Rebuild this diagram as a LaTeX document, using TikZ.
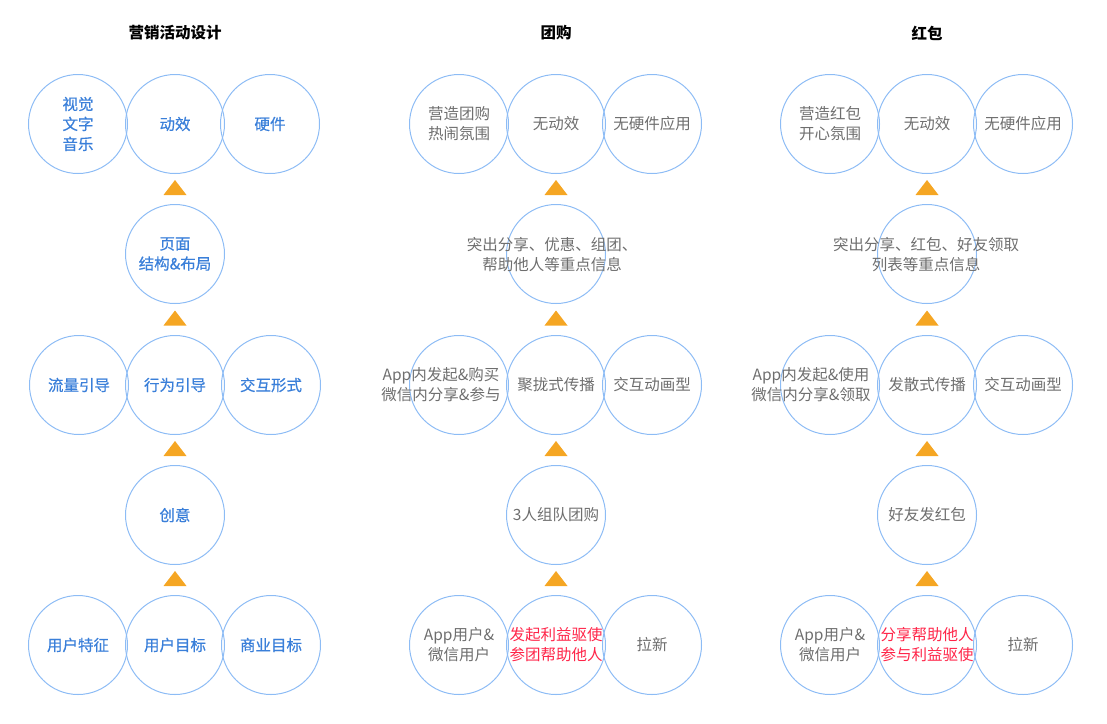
\documentclass[tikz,border=0pt]{standalone}
\usepackage{fontspec}
\setmainfont{Noto Sans CJK SC}
\newfontfamily\medcjk{Noto Sans CJK SC}[FakeBold=0.6]
\usepackage{xcolor}
\usepackage{tikz}
\usetikzlibrary{positioning}
\definecolor{ringblue}{HTML}{8DBCF5}
\definecolor{textblue}{HTML}{3A7FD9}
\definecolor{textgray}{HTML}{6E6E6E}
\definecolor{alertred}{HTML}{FF2448}
\definecolor{uporange}{HTML}{F5A623}
\tikzstyle{ring} = [circle, draw = ringblue, line width = 1, minimum size = 99, inner sep = 0, align = center]
\tikzstyle{bluetxt} = [text = textblue, font = \medcjk\fontsize{15.5}{20}\selectfont]
\tikzstyle{graytxt} = [text = textgray, align = center, font = \fontsize{15.5}{20}\selectfont]
\tikzstyle{redtxt} = [text = alertred, font = \fontsize{15.5}{20}\selectfont]
\tikzstyle{heading} = [text = black, font = \bfseries\fontsize{15.5}{20}\selectfont]
\tikzstyle{up} = [fill = uporange]

\begin{document}
\begin{tikzpicture}[x = 1pt, y = -1pt]
\useasboundingbox (0, 0) rectangle (1107, 723);
% titles
\node [heading] (h1) at (175, 33) {营销活动设计};
\node [heading] (h2) at (556, 33) {团购};
\node [heading] (h3) at (927, 33) {红包};
% marketing design column
\node [ring, bluetxt] (a11) at (78, 124) {视觉\\文字\\音乐};
\node [ring, bluetxt] (a12) at (175, 124) {动效};
\node [ring, bluetxt] (a13) at (270, 124) {硬件};
\node [ring, bluetxt] (a2) at (175, 254) {页面\\结构\&布局};
\node [ring, bluetxt] (a31) at (79, 385) {流量引导};
\node [ring, bluetxt] (a32) at (175, 385) {行为引导};
\node [ring, bluetxt] (a33) at (271, 385) {交互形式};
\node [ring, bluetxt] (a4) at (175, 515) {创意};
\node [ring, bluetxt] (a51) at (78, 645) {用户特征};
\node [ring, bluetxt] (a52) at (175, 645) {用户目标};
\node [ring, bluetxt] (a53) at (271, 645) {商业目标};
% group buying column
\node [ring, graytxt] (b11) at (459, 124) {营造团购\\热闹氛围};
\node [ring, graytxt] (b12) at (556, 124) {无动效};
\node [ring, graytxt] (b13) at (652, 124) {无硬件应用};
\node [ring] (b2) at (556, 254) {};
\node [graytxt] (b2t) at (552, 255) {突出分享、优惠、组团、\\帮助他人等重点信息};
\node [ring] (b31) at (459, 385) {};
\node [graytxt] (b31t) at (441, 385) {App内发起\&购买\\微信内分享\&参与};
\node [ring, graytxt] (b32) at (556, 385) {聚拢式传播};
\node [ring, graytxt] (b33) at (652, 385) {交互动画型};
\node [ring, graytxt] (b4) at (556, 515) {3人组队团购};
\node [ring, graytxt] (b51) at (459, 645) {App用户\&\\微信用户};
\node [ring, redtxt] (b52) at (556, 645) {发起利益驱使\\参团帮助他人};
\node [ring, graytxt] (b53) at (652, 645) {拉新};
% red packet column
\node [ring, graytxt] (c11) at (830, 124) {营造红包\\开心氛围};
\node [ring, graytxt] (c12) at (927, 124) {无动效};
\node [ring, graytxt] (c13) at (1023, 124) {无硬件应用};
\node [ring] (c2) at (927, 254) {};
\node [graytxt] (c2t) at (926, 255) {突出分享、红包、好友领取\\列表等重点信息};
\node [ring] (c31) at (830, 385) {};
\node [graytxt] (c31t) at (811, 385) {App内发起\&使用\\微信内分享\&领取};
\node [ring, graytxt] (c32) at (927, 385) {发散式传播};
\node [ring, graytxt] (c33) at (1023, 385) {交互动画型};
\node [ring, graytxt] (c4) at (927, 515) {好友发红包};
\node [ring, graytxt] (c51) at (830, 645) {App用户\&\\微信用户};
\node [ring, redtxt] (c52) at (927, 645) {分享帮助他人\\参与利益驱使};
\node [ring, graytxt] (c53) at (1023, 645) {拉新};
% orange steps
\foreach \x in {175, 556, 927}
  \foreach \y in {187.5, 318, 448.5, 578.5}
    \fill [up] (\x, \y) ++(-11.5, 7.5) -- ++(23, 0) -- ++(-11.5, -15) -- cycle;
\end{tikzpicture}
\end{document}
